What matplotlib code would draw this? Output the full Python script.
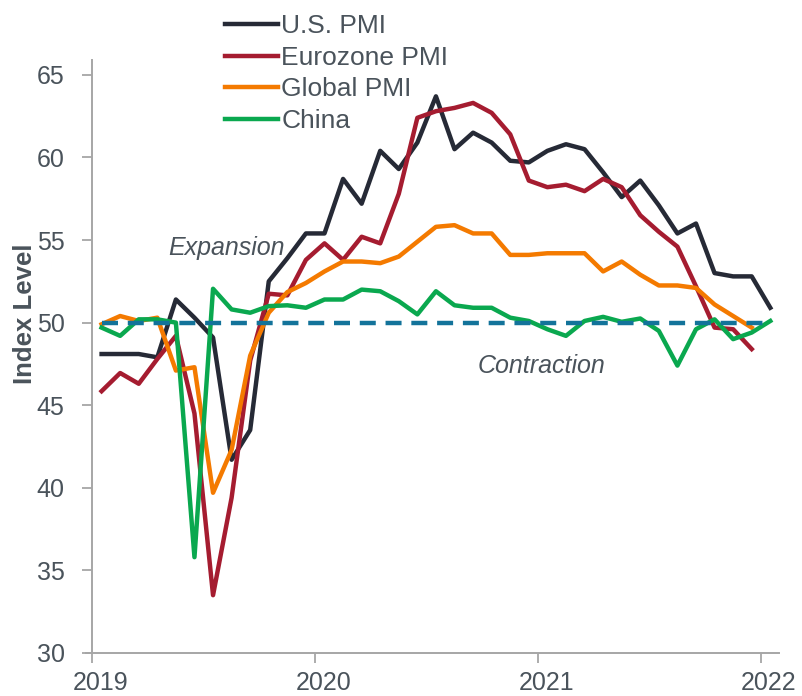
import numpy as np
import matplotlib.pyplot as plt
import matplotlib.transforms as mtransforms

plt.rcParams['font.family'] = ['Liberation Sans', 'DejaVu Sans']

# monthly index readings, Jan 2019 onwards
us_pmi = [48.1, 48.1, 48.1, 47.9, 51.4, 50.3, 49.1, 41.7, 43.5, 52.5, 53.9, 55.4,
          55.4, 58.7, 57.2, 60.4, 59.3, 60.9, 63.7, 60.5, 61.5, 60.9, 59.8, 59.7,
          60.4, 60.8, 60.5, 59.1, 57.6, 58.6, 57.1, 55.4, 56.0, 53.0, 52.8, 52.8,
          50.9]
euro_pmi = [45.85, 46.95, 46.3, 47.8, 49.2, 44.5, 33.5, 39.4, 47.7, 51.75, 51.65, 53.8,
            54.8, 53.8, 55.2, 54.8, 57.8, 62.4, 62.8, 63.0, 63.3, 62.7, 61.4, 58.6,
            58.2, 58.35, 57.96, 58.7, 58.2, 56.5, 55.5, 54.6, 52.2, 49.7, 49.6, 48.4]
global_pmi = [49.9, 50.4, 50.1, 50.3, 47.1, 47.3, 39.7, 42.3, 48.0, 50.6, 51.85, 52.4,
              53.1, 53.7, 53.7, 53.6, 54.0, 54.9, 55.8, 55.9, 55.4, 55.4, 54.1, 54.1,
              54.2, 54.2, 54.2, 53.1, 53.7, 52.9, 52.25, 52.25, 52.1, 51.1, 50.4, 49.7]
china_pmi = [49.7, 49.2, 50.2, 50.2, 50.0, 35.8, 52.05, 50.8, 50.6, 51.0, 51.05, 50.9,
             51.4, 51.4, 52.0, 51.9, 51.3, 50.5, 51.9, 51.05, 50.9, 50.9, 50.3, 50.1,
             49.6, 49.2, 50.1, 50.35, 50.05, 50.25, 49.5, 47.4, 49.6, 50.2, 49.0, 49.4,
             50.1]
threshold = 50
years = [2019, 2020, 2021, 2022]
yticks = [30, 35, 40, 45, 50, 55, 60, 65]


def month_axis(n):
    # mid-month positions in decimal years
    return 2019 + (np.arange(n) + 0.5) / 12


txt = '#4a535b'
grey = '#a6a6a6'

fig = plt.figure(figsize=(8.02, 6.96), dpi=100)
ax = fig.add_axes([86 / 802, 43 / 696, (779 - 86) / 802, (653 - 60) / 696])

ax.plot(month_axis(len(us_pmi)), us_pmi, color='#262a36', lw=3.2, label='U.S. PMI')
ax.plot(month_axis(len(euro_pmi)), euro_pmi, color='#a51c30', lw=3.2, label='Eurozone PMI')
ax.plot(month_axis(len(global_pmi)), global_pmi, color='#f47a00', lw=3.2, label='Global PMI')
ax.plot(month_axis(len(china_pmi)), china_pmi, color='#0aa84f', lw=3.2, label='China')
ax.plot(month_axis(len(us_pmi)), [threshold] * len(us_pmi), color='#13739a',
        lw=3.2, ls=(0, (3.6, 2.2)))

ax.set_xlim(2019 - 6.3 / 222.9, 2022 + 18 / 222.9)
ax.set_ylim(30, 65.9)
ax.spines['left'].set_position(('data', 2019))
for s in ['top', 'right']:
    ax.spines[s].set_visible(False)
for s in ['left', 'bottom']:
    ax.spines[s].set_color(grey)
    ax.spines[s].set_linewidth(1.4)

ax.set_xticks(years)
ax.set_xticklabels([str(y) for y in years])
ax.set_yticks(yticks)
ax.tick_params(axis='both', colors=grey, labelcolor=txt, labelsize=18,
               length=7, width=1.3, direction='out')
ax.tick_params(axis='y', pad=13)
ax.tick_params(axis='x', pad=6)
shift = mtransforms.ScaledTranslation(0.08, 0, fig.dpi_scale_trans)
for lab in ax.get_xticklabels():
    lab.set_transform(lab.get_transform() + shift)

fig.text(25 / 802, 1 - 314 / 696, 'Index Level', rotation=90, ha='center',
         va='center', fontsize=18.5, fontweight='bold', color=txt)

ax.text(2019.34, 54.5, 'Expansion', fontsize=18, style='italic', color=txt,
        ha='left', va='center')
ax.text(2020.73, 47.4, 'Contraction', fontsize=18, style='italic', color=txt,
        ha='left', va='center')

leg = ax.legend(loc='upper left', bbox_to_anchor=(212 / 802, 1 - 1 / 696),
                bbox_transform=fig.transFigure, frameon=False, fontsize=19,
                handlelength=2.0, handletextpad=0.12, labelspacing=0.29,
                borderpad=0)
for t in leg.get_texts():
    t.set_color(txt)

fig.savefig('out.png', dpi=100)
